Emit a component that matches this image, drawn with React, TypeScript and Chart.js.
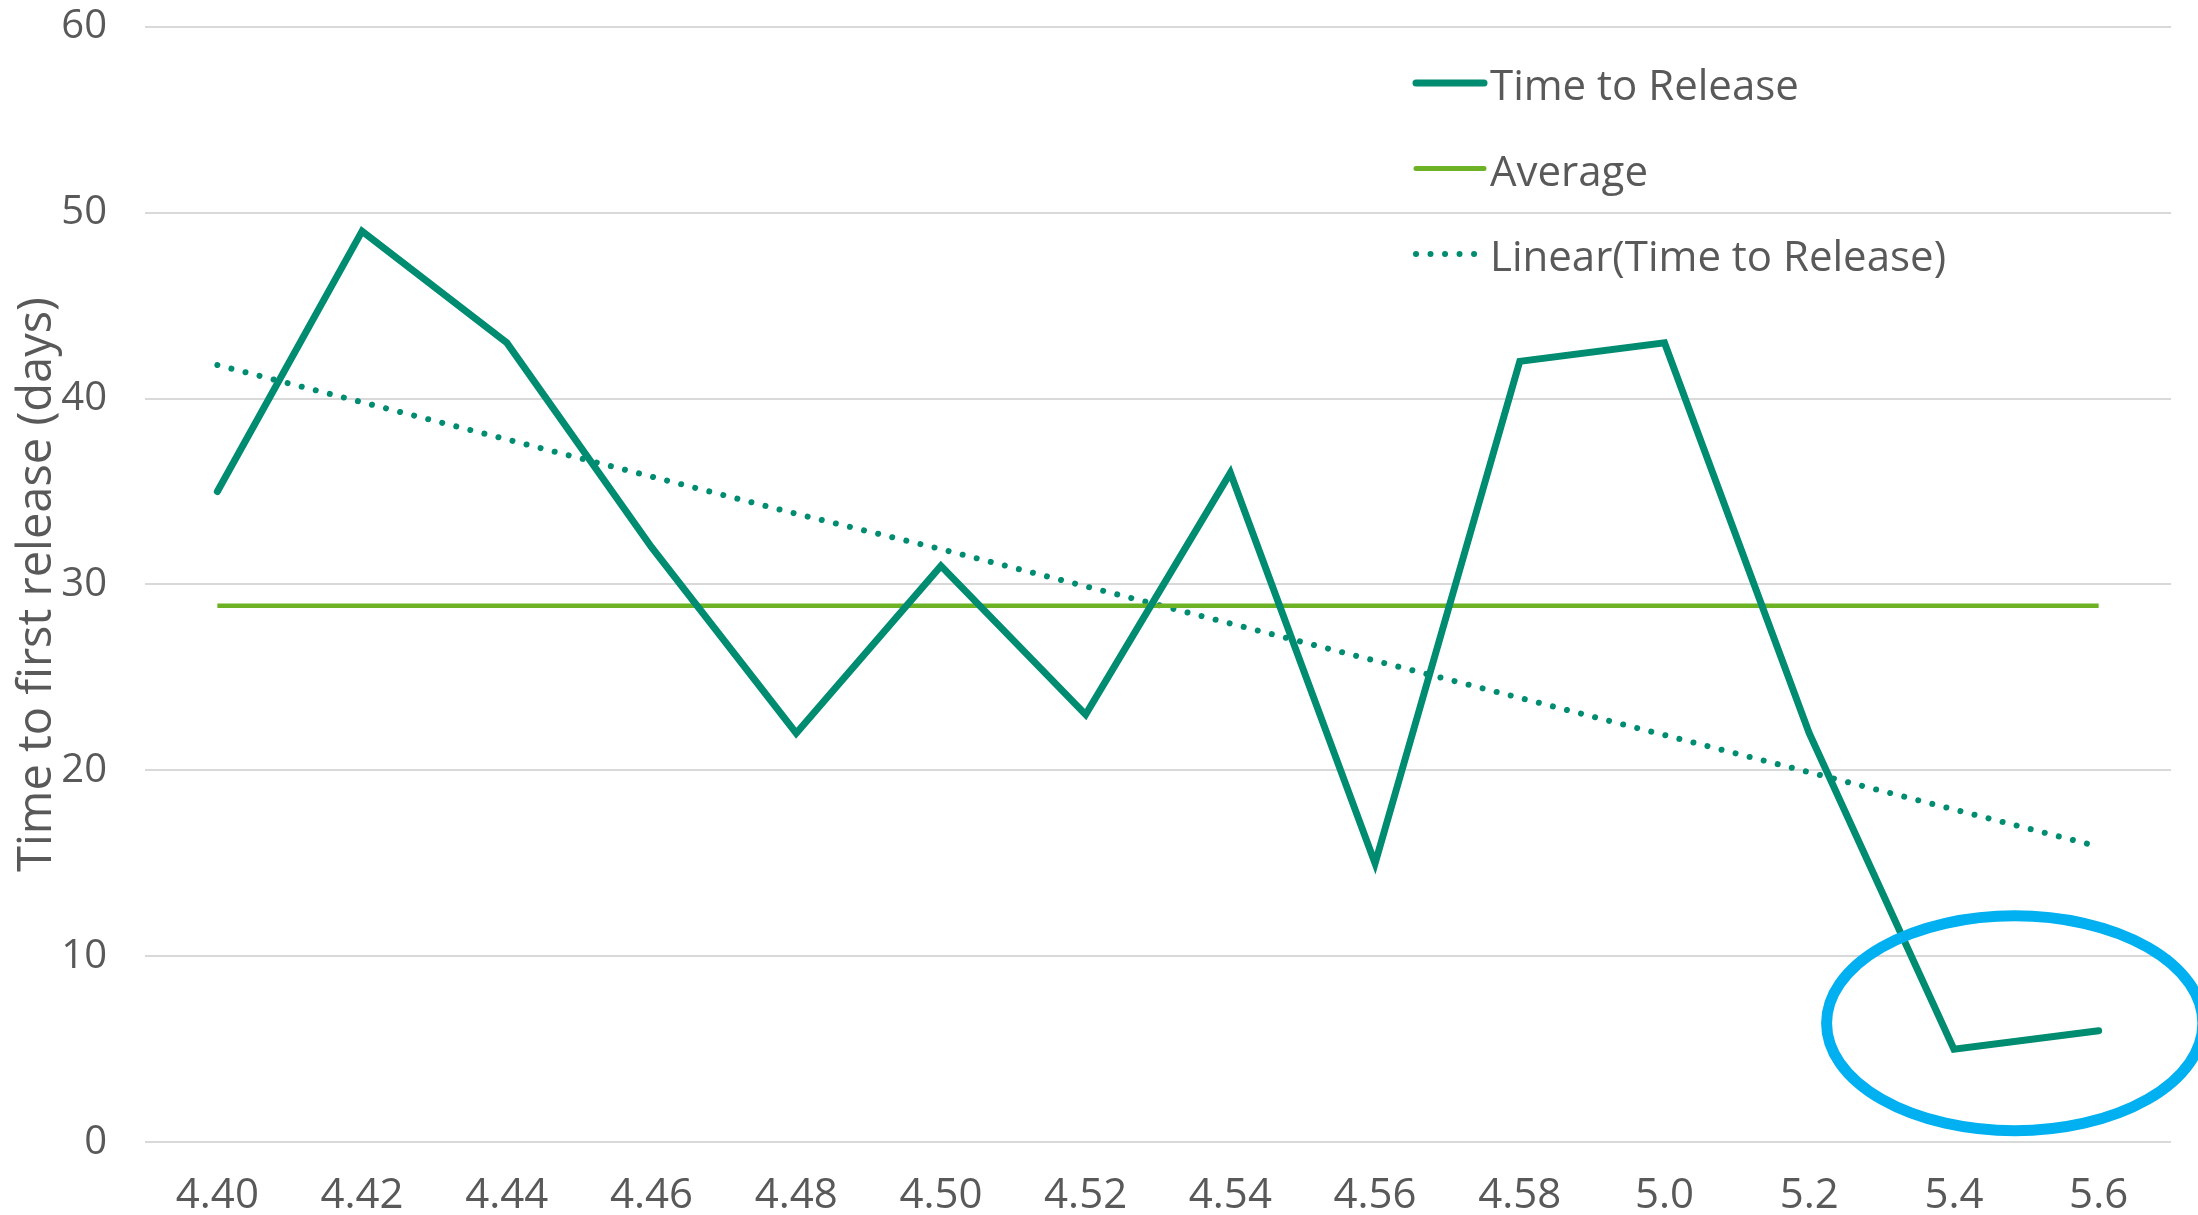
import React, { useEffect, useRef } from "react";
import { Chart, registerables } from "chart.js";

Chart.register(...registerables);

// ---------- data ----------
const categories = ["4.40", "4.42", "4.44", "4.46", "4.48", "4.50", "4.52", "4.54", "4.56", "4.58", "5.0", "5.2", "5.4", "5.6"];
const timeToRelease = [35, 49, 43, 32, 22, 31, 23, 36, 15, 42, 43, 22, 5, 6];
const averageValues = [28.86, 28.86, 28.86, 28.86, 28.86, 28.86, 28.86, 28.86, 28.86, 28.86, 28.86, 28.86, 28.86, 28.86];
const linearTrend = [41.8, 39.8, 37.8, 35.8, 33.8, 31.9, 29.9, 27.9, 25.9, 23.9, 21.9, 19.9, 17.9, 15.9];
const yMin = 0;
const yMax = 60;
const yStep = 10;
const seriesNames = ["Time to Release", "Average", "Linear(Time to Release)"];
const yAxisTitle = "Time to first release (days)";

// highlight ellipse (data coordinates: category index / value)
const ellipseCenterIndex = 12.42;
const ellipseCenterValue = 6.4;
const ellipseRadiusIndex = 1.3;
const ellipseRadiusValue = 5.78;

// ---------- styles ----------
const TEAL = "#008C70";
const LIME = "#6CB224";
const CYAN = "#00B0F0";
const TEXT = "#595959";
const GRID = "#D9D9D9";
const FONT = '"Open Sans", "DejaVu Sans", sans-serif';

const legendPlugin = {
  id: "floatLegend",
  afterDraw(chart: any) {
    const ctx = chart.ctx as CanvasRenderingContext2D;
    const items = [
      { label: seriesNames[0], color: TEAL, width: 7, dash: [] as number[], y: 83 },
      { label: seriesNames[1], color: LIME, width: 5, dash: [] as number[], y: 168.5 },
      { label: seriesNames[2], color: TEAL, width: 6, dash: [0.01, 14.5], y: 254 },
    ];
    ctx.save();
    items.forEach((it) => {
      ctx.beginPath();
      ctx.strokeStyle = it.color;
      ctx.lineWidth = it.width;
      ctx.lineCap = "round";
      ctx.setLineDash(it.dash);
      ctx.moveTo(1416, it.y);
      ctx.lineTo(1484, it.y);
      ctx.stroke();
      ctx.setLineDash([]);
      ctx.fillStyle = TEXT;
      ctx.font = `42px ${FONT}`;
      ctx.textBaseline = "alphabetic";
      ctx.textAlign = "left";
      ctx.fillText(it.label, 1490, it.y + 17);
    });
    ctx.restore();
  },
};

const ellipsePlugin = {
  id: "highlightEllipse",
  afterDraw(chart: any) {
    const xs = chart.scales.x;
    const ys = chart.scales.y;
    const cx = xs.getPixelForValue(ellipseCenterIndex);
    const cy = ys.getPixelForValue(ellipseCenterValue);
    const rx = Math.abs(xs.getPixelForValue(ellipseCenterIndex + ellipseRadiusIndex) - cx);
    const ry = Math.abs(ys.getPixelForValue(ellipseCenterValue + ellipseRadiusValue) - cy);
    const ctx = chart.ctx as CanvasRenderingContext2D;
    ctx.save();
    ctx.beginPath();
    ctx.strokeStyle = CYAN;
    ctx.lineWidth = 11;
    ctx.ellipse(cx, cy, rx, ry, 0, 0, Math.PI * 2);
    ctx.stroke();
    ctx.restore();
  },
};

export default function App() {
  const ref = useRef<HTMLCanvasElement | null>(null);

  useEffect(() => {
    if (!ref.current) return;
    const chart = new Chart(ref.current, {
      type: "line",
      data: {
        labels: categories,
        datasets: [
          {
            label: seriesNames[2],
            data: linearTrend,
            borderColor: TEAL,
            borderWidth: 6,
            borderDash: [0.01, 14.5],
            borderCapStyle: "round",
            pointRadius: 0,
            tension: 0,
            order: 3,
          },
          {
            label: seriesNames[1],
            data: averageValues,
            borderColor: LIME,
            borderWidth: 4.5,
            pointRadius: 0,
            tension: 0,
            order: 2,
          },
          {
            label: seriesNames[0],
            data: timeToRelease,
            borderColor: TEAL,
            borderWidth: 7,
            borderJoinStyle: "miter",
            borderCapStyle: "round",
            pointRadius: 0,
            tension: 0,
            order: 1,
          },
        ],
      },
      options: {
        animation: false,
        responsive: false,
        maintainAspectRatio: false,
        devicePixelRatio: 1,
        layout: { padding: { left: 0, right: 27, top: 26.6, bottom: 0 } },
        plugins: {
          legend: { display: false },
          tooltip: { enabled: false },
        },
        scales: {
          x: {
            type: "category",
            offset: true,
            grid: { display: false, drawTicks: false },
            border: { display: false },
            ticks: {
              color: TEXT,
              font: { family: FONT, size: 42 },
              padding: 29,
              maxRotation: 0,
              autoSkip: false,
            },
            afterFit(scale: any) {
              scale.height = 72.7;
            },
          },
          y: {
            min: yMin,
            max: yMax,
            grid: { color: GRID, lineWidth: 2, drawTicks: false },
            border: { display: false },
            ticks: {
              stepSize: yStep,
              color: TEXT,
              font: { family: FONT, size: 40 },
              padding: 38,
            },
            title: {
              display: true,
              text: yAxisTitle,
              color: TEXT,
              font: { family: FONT, size: 47 },
              padding: { top: 9.8, bottom: 0 },
            },
            afterFit(scale: any) {
              scale.width = 145;
              scale.paddingTop = 0;
              scale.paddingBottom = 0;
            },
          },
        },
      },
      plugins: [legendPlugin, ellipsePlugin],
    });
    return () => chart.destroy();
  }, []);

  return (
    <div style={{ position: "fixed", left: 0, top: 0, width: 2198, height: 1215, background: "#fff" }}>
      <canvas ref={ref} width={2198} height={1215} style={{ display: "block", width: 2198, height: 1215 }} />
    </div>
  );
}
